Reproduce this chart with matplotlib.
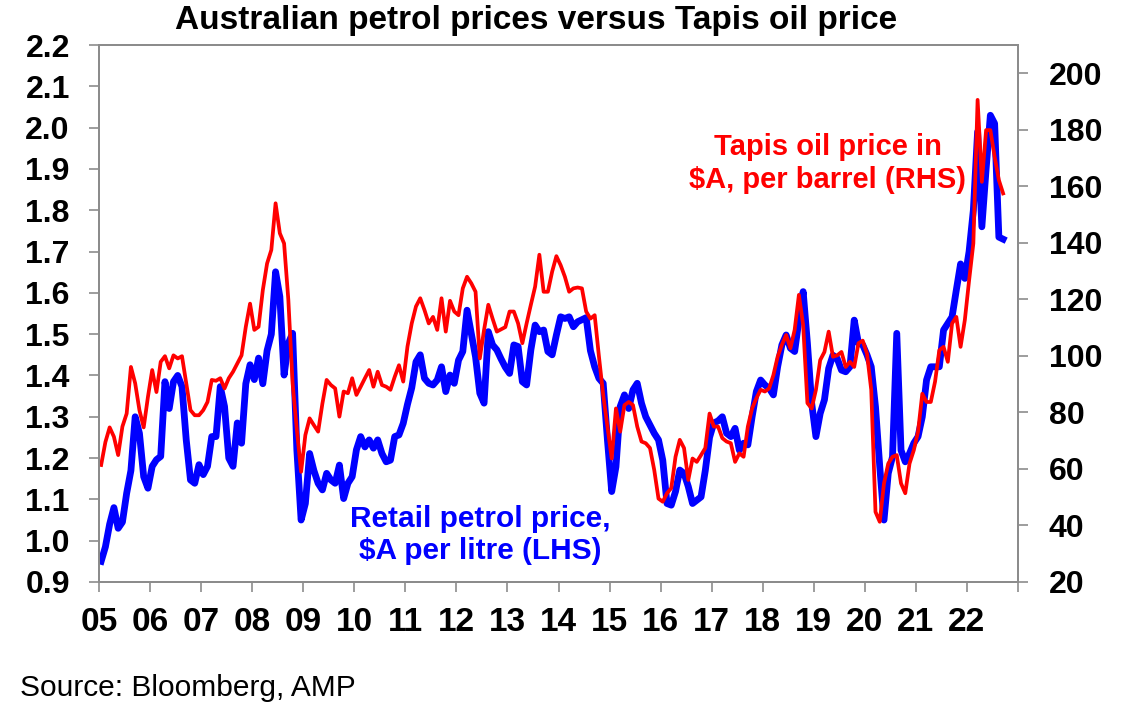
import numpy as np
import matplotlib
matplotlib.use("Agg")
import matplotlib.pyplot as plt

plt.rcParams['font.family'] = ['Liberation Sans', 'DejaVu Sans']

# monthly values, Jan 2005 to Sep 2022
retail = [
    0.95, 0.985, 1.04, 1.08, 1.03, 1.045, 1.115, 1.17, 1.30, 1.26, 1.155, 1.127,
    1.18, 1.196, 1.204, 1.385, 1.32, 1.385, 1.40, 1.373, 1.244, 1.147, 1.139, 1.184,
    1.16, 1.18, 1.252, 1.252, 1.373, 1.325, 1.20, 1.18, 1.285, 1.236, 1.38, 1.426,
    1.39, 1.442, 1.38, 1.46, 1.50, 1.651, 1.591, 1.401, 1.478, 1.502, 1.22, 1.05,
    1.09, 1.211, 1.17, 1.139, 1.123, 1.163, 1.147, 1.139, 1.183, 1.102, 1.139, 1.155,
    1.22, 1.252, 1.227, 1.244, 1.224, 1.244, 1.211, 1.191, 1.195, 1.252, 1.256, 1.284,
    1.33, 1.37, 1.433, 1.45, 1.393, 1.381, 1.377, 1.389, 1.421, 1.361, 1.401, 1.381,
    1.437, 1.458, 1.558, 1.502, 1.445, 1.357, 1.333, 1.506, 1.474, 1.462, 1.44, 1.42,
    1.405, 1.474, 1.47, 1.385, 1.377, 1.462, 1.522, 1.506, 1.51, 1.458, 1.45, 1.498,
    1.542, 1.538, 1.542, 1.518, 1.53, 1.535, 1.54, 1.46, 1.421, 1.393, 1.381, 1.244,
    1.119, 1.179, 1.325, 1.353, 1.32, 1.365, 1.381, 1.333, 1.30, 1.28, 1.26, 1.244,
    1.195, 1.09, 1.086, 1.119, 1.171, 1.163, 1.131, 1.09, 1.098, 1.106, 1.17, 1.25,
    1.285, 1.29, 1.30, 1.26, 1.252, 1.272, 1.219, 1.236, 1.232, 1.30, 1.361, 1.389,
    1.377, 1.369, 1.353, 1.421, 1.474, 1.498, 1.466, 1.458, 1.534, 1.603, 1.478, 1.333,
    1.252, 1.308, 1.341, 1.417, 1.449, 1.441, 1.413, 1.409, 1.421, 1.534, 1.478, 1.474,
    1.45, 1.421, 1.324, 1.18, 1.05, 1.163, 1.203, 1.502, 1.219, 1.191, 1.211, 1.236,
    1.252, 1.30, 1.389, 1.421, 1.421, 1.421, 1.51, 1.526, 1.542, 1.607, 1.67, 1.635,
    1.70, 1.80, 1.99, 1.76, 1.90, 2.03, 2.01, 1.735, 1.73,
]

tapis = [
    61.4, 69.5, 74.7, 71.4, 64.9, 75.0, 79.6, 96.1, 90.3, 80.8, 74.7, 85.5,
    95.0, 87.2, 97.9, 99.9, 95.6, 100.2, 99.1, 99.9, 90.3, 80.8, 79.0, 79.0,
    80.8, 83.7, 91.5, 91.2, 92.1, 88.5, 92.1, 94.4, 97.3, 100.2, 110.3, 118.5,
    109.2, 110.3, 123.3, 132.7, 137.5, 154.0, 143.4, 139.8, 119.8, 90.3, 73.8, 59.0,
    72.0, 77.9, 75.5, 73.2, 83.1, 91.5, 89.7, 88.5, 78.5, 87.4, 86.8, 92.1,
    86.2, 89.1, 92.1, 95.0, 89.1, 94.4, 89.7, 89.1, 88.0, 92.6, 96.7, 90.9,
    103.3, 111.5, 117.5, 120.4, 116.2, 111.5, 113.8, 109.2, 120.4, 108.6, 119.5, 115.7,
    114.4, 123.9, 128.0, 125.7, 122.7, 99.1, 109.2, 118.1, 113.2, 108.6, 109.4, 110.2,
    115.7, 115.7, 111.5, 104.5, 111.5, 118.1, 124.5, 135.8, 122.7, 122.7, 129.8, 135.3,
    132.1, 128.0, 122.7, 123.9, 124.2, 123.9, 115.7, 113.2, 114.4, 99.8, 86.2, 75.0,
    63.7, 81.4, 73.2, 82.6, 83.7, 82.6, 75.0, 69.7, 69.1, 67.4, 59.6, 49.5,
    48.4, 51.4, 53.2, 64.3, 70.3, 67.4, 56.1, 63.7, 62.5, 64.9, 67.4, 79.6,
    75.0, 75.0, 70.9, 69.7, 69.1, 62.5, 65.5, 64.3, 75.0, 81.4, 85.0, 88.0,
    87.4, 88.5, 93.2, 99.7, 103.9, 107.4, 102.7, 109.2, 121.6, 110.9, 83.3, 81.4,
    88.0, 98.5, 101.4, 108.6, 99.7, 100.2, 101.4, 96.1, 97.9, 96.1, 104.5, 105.4,
    100.8, 88.0, 44.8, 41.3, 54.9, 61.9, 64.3, 64.9, 54.9, 51.4, 61.9, 66.6,
    73.2, 86.6, 83.7, 83.7, 90.9, 102.0, 103.2, 97.9, 111.5, 113.8, 103.2, 112.7,
    126.7, 139.8, 190.6, 161.6, 179.9, 179.9, 170.5, 162.2, 157.5,
]

year_labels = ['05', '06', '07', '08', '09', '10', '11', '12', '13',
               '14', '15', '16', '17', '18', '19', '20', '21', '22']

months = 2005 + (np.arange(len(retail)) + 0.5) / 12

fig = plt.figure(figsize=(11.29, 7.14), dpi=100)
ax = fig.add_axes([0.0877, 0.1849, 0.814, 0.752])
ax2 = ax.twinx()

ax.plot(months, retail, color='#0000FF', lw=4.9, solid_joinstyle='round')
ax2.plot(months, tapis, color='#FF0000', lw=2.7, solid_joinstyle='round')

ax.set_xlim(2005, 2023)
ax.set_ylim(0.9, 2.2)
ax2.set_ylim(20, 210)

ax.set_xticks(np.arange(2005, 2024))
ax.set_xticklabels(year_labels + [''])
ax.set_yticks(np.arange(0.9, 2.21, 0.1))
ax.set_yticklabels(['%.1f' % v for v in np.arange(0.9, 2.21, 0.1)])
ax2.set_yticks(np.arange(20, 201, 20))

grey = '#8c8c8c'
for a in (ax, ax2):
    for s in a.spines.values():
        s.set_color(grey)
        s.set_linewidth(1.4)
ax.tick_params(axis='x', direction='out', length=7, width=1.2, color=grey,
               pad=11, labelsize=24)
ax.tick_params(axis='y', direction='out', length=7, width=1.2, color=grey,
               pad=14, labelsize=23)
ax2.tick_params(axis='y', direction='out', length=7, width=1.2, color=grey,
                pad=15, labelsize=23)
for lab in ax.get_xticklabels() + ax.get_yticklabels() + ax2.get_yticklabels():
    lab.set_fontweight('bold')

fig.text(0.475, 0.971, 'Australian petrol prices versus Tapis oil price',
         ha='center', va='center', fontsize=24, fontweight='bold')

fig.text(0.733, 0.771, 'Tapis oil price in\n$A, per barrel (RHS)',
         ha='center', va='center', fontsize=21, fontweight='bold',
         color='#FF0000', linespacing=1.25)
fig.text(0.425, 0.251, 'Retail petrol price,\n$A per litre (LHS)',
         ha='center', va='center', fontsize=21.5, fontweight='bold',
         color='#0000FF', linespacing=1.2)

fig.text(0.018, 0.037, 'Source: Bloomberg, AMP', ha='left', va='center',
         fontsize=21.5)

fig.savefig('out.png', dpi=100)
